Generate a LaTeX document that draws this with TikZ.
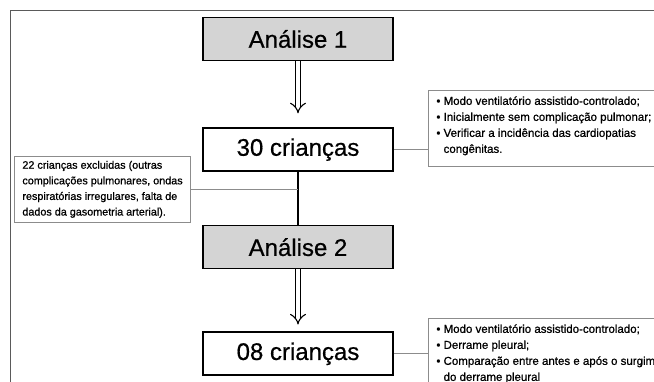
\documentclass[tikz,border=0pt]{standalone}
\usepackage{fontspec}
\setmainfont{Liberation Sans}
\newfontfamily\boxfont[FakeBold=0.6]{Liberation Sans}
\newfontfamily\notefont[FakeBold=0.8]{Liberation Sans}
\usetikzlibrary{arrows.meta, positioning}
\definecolor{anagray}{HTML}{D4D4D4}
\definecolor{linkgray}{HTML}{8C8C8C}
\definecolor{framegray}{HTML}{5A5A5A}

\begin{document}
\begin{tikzpicture}[x=1pt, y=-1pt,
    mainbox/.style={draw, line width=1.6pt, minimum width=190pt, minimum height=43pt,
      inner sep=0pt, font=\boxfont\fontsize{24}{28}\selectfont},
    analise/.style={mainbox, fill=anagray},
    infobox/.style={draw=linkgray, line width=0.8pt, align=left, anchor=north west,
      inner xsep=8pt, inner ysep=6pt, font=\notefont\fontsize{11.5}{16}\selectfont},
    bigarrow/.style={double, double distance=4.5pt, line width=1.1pt, -{Implies[scale=1.35]}},
    link/.style={draw=linkgray, line width=0.8pt}]
  \useasboundingbox (0,0) rectangle (654,382);
  \clip (0,0) rectangle (654,382);
  % moldura
  \draw[framegray, line width=0.8pt] (10,382) -- (10,10) -- (654,10);

  % caixas principais
  \node (ana1) [analise] at (298,39) {Análise 1};
  \node (c30) [mainbox, below=66pt of ana1] {30 crianças};
  \node (ana2) [analise, below=53pt of c30] {Análise 2};
  \node (c08) [mainbox, below=62pt of ana2] {08 crianças};

  % caixas de texto
  \node (excl) [infobox, font=\notefont\fontsize{10.8}{15.6}\selectfont,
    inner ysep=4.5pt] at (14,156)
    {22 crianças excluidas (outras\\
     complicações pulmonares, ondas\\
     respiratórias irregulares, falta de\\
     dados da gasometria arterial).};
  \node (info1) [infobox] at (428,90)
    {\textbullet\ Modo ventilatório assistido-controlado;\\
     \textbullet\ Inicialmente sem complicação pulmonar;\\
     \textbullet\ Verificar a incidência das cardiopatias\\
     \hphantom{\textbullet\ }congênitas.\rule[-8pt]{0pt}{8pt}};
  \node (info2) [infobox] at (428,318)
    {\textbullet\ Modo ventilatório assistido-controlado;\\
     \textbullet\ Derrame pleural;\\
     \textbullet\ Comparação entre antes e após o surgimento\\
     \hphantom{\textbullet\ }do derrame pleural\rule[-12pt]{0pt}{12pt}};

  % ligacoes
  \draw[bigarrow, shorten >=14pt] (ana1) -- (c30);
  \draw[bigarrow, shorten >=7pt] (ana2) -- (c08);
  \draw[line width=1.3pt] (c30) -- (ana2);
  \draw[link] (excl.east) -- (excl.east -| c30.south);
  \draw[link] (c30.east) -- (c30.east -| info1.west);
  \draw[link] (c08.east) -- (c08.east -| info2.west);
\end{tikzpicture}
\end{document}
